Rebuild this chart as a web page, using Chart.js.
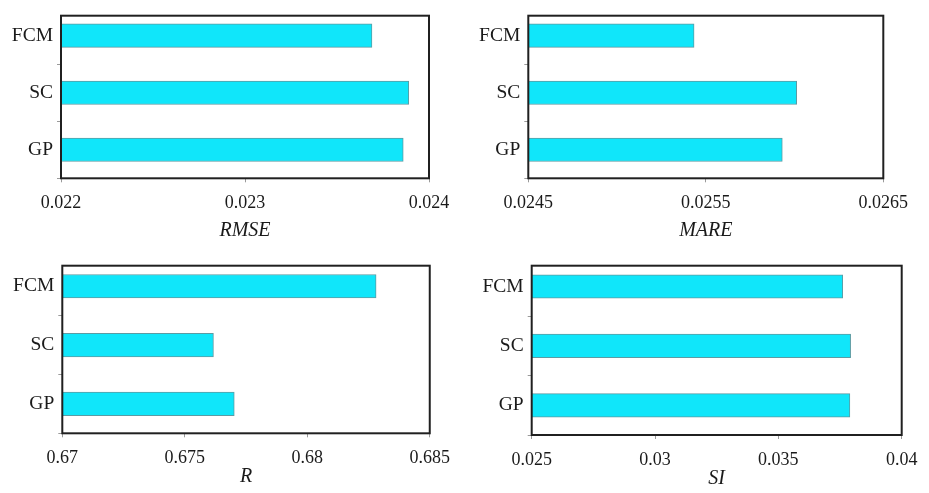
<!DOCTYPE html>
<html>
<head>
<meta charset="utf-8">
<script src="https://cdn.jsdelivr.net/npm/chart.js@4.4.1/dist/chart.umd.min.js"></script>
<style>
  html, body { margin: 0; padding: 0; background: #ffffff; }
  body { width: 929px; height: 493px; position: relative; overflow: hidden; }
  canvas { position: absolute; }
</style>
</head>
<body>
<canvas id="cRmse" width="460" height="250" style="left:0px;top:0px"></canvas>
<canvas id="cMare" width="469" height="250" style="left:460px;top:0px"></canvas>
<canvas id="cR" width="460" height="243" style="left:0px;top:250px"></canvas>
<canvas id="cSi" width="469" height="243" style="left:460px;top:250px"></canvas>
<script>
// Models compared in every panel (top to bottom)
const models = ['FCM', 'SC', 'GP'];

// Error / agreement statistics per model
const rmse = [0.02369, 0.02389, 0.02386];
const mare = [0.025434, 0.026012, 0.025931];
const rValues = [0.68281, 0.67617, 0.67702];
const si = [0.03761, 0.03793, 0.03790];

// Value-axis tick labels per panel
const rmseTicks = [0.022, 0.023, 0.024];
const mareTicks = [0.0245, 0.0255, 0.0265];
const rTicks = [0.67, 0.675, 0.68, 0.685];
const siTicks = [0.025, 0.03, 0.035, 0.04];

const SERIF = '"Liberation Serif", "Times New Roman", serif';
const TEXT = '#1a1a1a';

// Black box around each plot area
const framePlugin = {
  id: 'frame',
  afterDatasetsDraw(chart) {
    const a = chart.chartArea;
    const ctx = chart.ctx;
    ctx.save();
    ctx.strokeStyle = '#202020';
    ctx.lineWidth = 2;
    ctx.strokeRect(a.left, a.top, a.right - a.left, a.bottom - a.top);
    ctx.restore();
  }
};

function makePanel(id, title, values, ticks, g) {
  const points = values.map((v, i) => ({ x: v, y: i }));
  return new Chart(document.getElementById(id), {
    type: 'bar',
    data: {
      datasets: [{
        data: points,
        backgroundColor: '#10e6fa',
        borderColor: '#5c9ba3',
        borderWidth: 1,
        barThickness: 23.5
      }]
    },
    plugins: [framePlugin],
    options: {
      indexAxis: 'y',
      responsive: false,
      devicePixelRatio: 1,
      animation: false,
      events: [],
      layout: { padding: { top: g.padTop, right: g.padRight, left: 0, bottom: 0 } },
      plugins: { legend: { display: false }, tooltip: { enabled: false } },
      scales: {
        x: {
          type: 'linear',
          min: ticks[0],
          max: ticks[ticks.length - 1],
          afterBuildTicks: (axis) => { axis.ticks = ticks.map(v => ({ value: v })); },
          afterFit: (axis) => { axis.height = g.xHeight; },
          border: { display: false },
          grid: {
            drawOnChartArea: false,
            drawTicks: true,
            tickLength: 4,
            color: '#9a9a9a',
            tickColor: '#9a9a9a'
          },
          ticks: {
            autoSkip: false,
            maxRotation: 0,
            padding: 10,
            color: TEXT,
            font: { family: SERIF, size: 18 },
            callback: (v) => String(v)
          },
          title: {
            display: true,
            text: title,
            color: TEXT,
            padding: { top: 0, bottom: g.titlePad },
            font: { family: SERIF, size: 20, style: 'italic' }
          }
        },
        y: {
          type: 'linear',
          reverse: true,
          offset: false,
          min: -0.35,
          max: 2.5,
          afterBuildTicks: (axis) => {
            axis.ticks = [0, 0.5, 1, 1.5, 2, 2.5].map(v => ({ value: v }));
          },
          afterFit: (axis) => { axis.width = g.yWidth; },
          border: { display: false },
          grid: {
            offset: false,
            drawOnChartArea: false,
            drawTicks: true,
            tickLength: 4,
            color: (c) => (c.tick && Number.isInteger(c.tick.value)) ? 'rgba(0,0,0,0)' : '#9a9a9a',
            tickColor: (c) => (c.tick && Number.isInteger(c.tick.value)) ? 'rgba(0,0,0,0)' : '#9a9a9a'
          },
          ticks: {
            autoSkip: false,
            padding: 4,
            color: TEXT,
            font: { family: SERIF, size: 19.5 },
            callback: (v) => Number.isInteger(v) ? models[v] : ''
          }
        }
      }
    }
  });
}

makePanel('cRmse', 'RMSE', rmse, rmseTicks,
  { yWidth: 61, padTop: 12.3, padRight: 31, xHeight: 71.7, titlePad: 7 });
makePanel('cMare', 'MARE', mare, mareTicks,
  { yWidth: 68.3, padTop: 12.3, padRight: 45.7, xHeight: 71.7, titlePad: 7 });
makePanel('cR', 'R', rValues, rTicks,
  { yWidth: 62.3, padTop: 15, padRight: 28.3, xHeight: 59.7, titlePad: 4 });
makePanel('cSi', 'SI', si, siTicks,
  { yWidth: 71.7, padTop: 15, padRight: 27.3, xHeight: 58, titlePad: 2 });
</script>
</body>
</html>
